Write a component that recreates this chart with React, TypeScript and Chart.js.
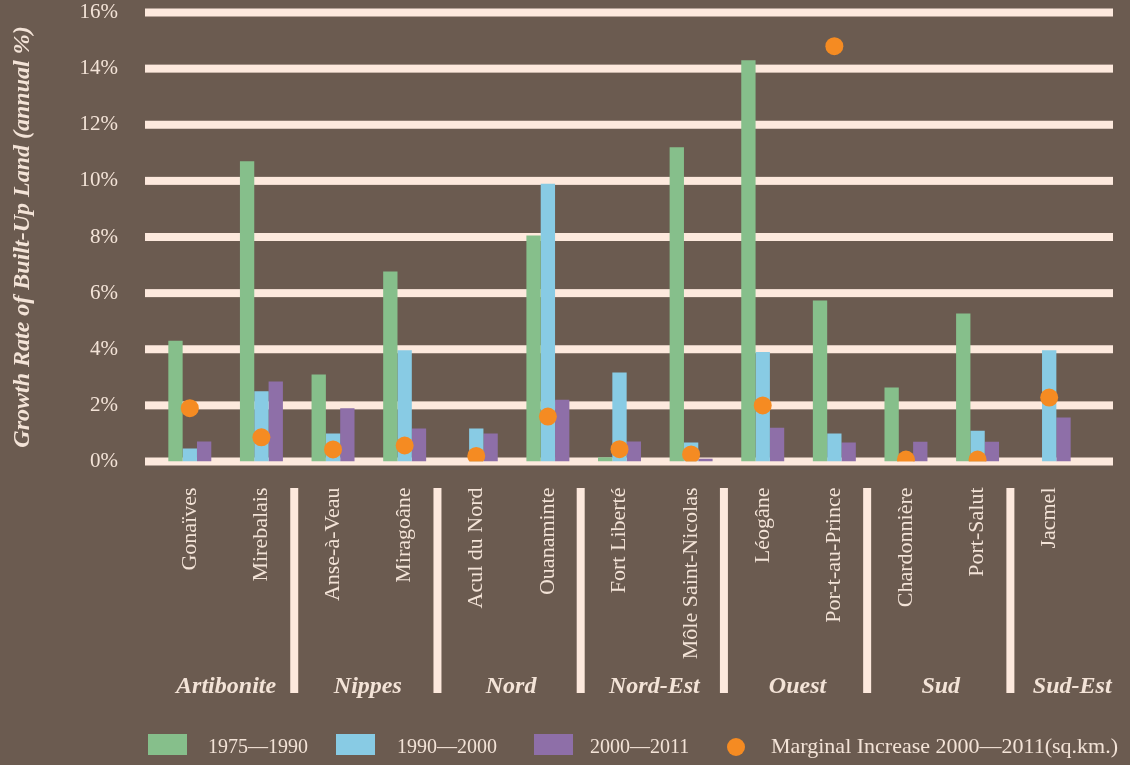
import React, { useEffect, useRef } from "react";
import { Chart, registerables } from "chart.js";

Chart.register(...registerables);

const cities = [
  "Gonaïves", "Mirebalais", "Anse-à-Veau", "Miragoâne", "Acul du Nord", "Ouanaminte",
  "Fort Liberté", "Môle Saint-Nicolas", "Léogâne", "Por-t-au-Prince", "Chardonnière", "Port-Salut", "Jacmel",
];
const departments = ["Artibonite", "Nippes", "Nord", "Nord-Est", "Ouest", "Sud", "Sud-Est"];
const departmentSizes = [2, 2, 2, 2, 2, 2, 1];

const rate1975to1990 = [4.3, 10.7, 3.1, 6.77, 0, 8.05, 0.15, 11.2, 14.3, 5.74, 2.64, 5.27, 0];
const rate1990to2000 = [0.46, 2.5, 1.0, 3.96, 1.18, 9.9, 3.17, 0.68, 3.9, 1.0, 0, 1.1, 3.96];
const rate2000to2011 = [0.71, 2.85, 1.9, 1.18, 1.0, 2.2, 0.71, 0.1, 1.2, 0.68, 0.7, 0.7, 1.57];
const marginalIncrease = [1.9, 0.86, 0.43, 0.57, 0.2, 1.6, 0.44, 0.25, 2.0, 14.8, 0.07, 0.07, 2.28];

const seriesLabels = ["1975—1990", "1990—2000", "2000—2011", "Marginal Increase 2000—2011(sq.km.)"];
const yTicks = [0, 2, 4, 6, 8, 10, 12, 14, 16];

const BG = "#6b5b50";
const GRID = "#fde9dd";
const TEXT = "#f3e3d7";
const GREEN = "#86bf8b";
const BLUE = "#88cbe4";
const PURPLE = "#8e6fa8";
const ORANGE = "#f58b22";
const SERIF = "'Liberation Serif', 'Times New Roman', serif";

const bgPlugin = {
  id: "bgPlugin",
  beforeDraw(chart: any) {
    const ctx = chart.ctx;
    ctx.save();
    ctx.fillStyle = BG;
    ctx.fillRect(0, 0, chart.width, chart.height);
    ctx.restore();
  },
};

const gridPlugin = {
  id: "gridPlugin",
  beforeDatasetsDraw(chart: any) {
    const ctx = chart.ctx;
    const y = chart.scales.y;
    const area = chart.chartArea;
    ctx.save();
    ctx.fillStyle = GRID;
    for (const v of yTicks) {
      const py = y.getPixelForValue(v);
      ctx.fillRect(area.left - 9, py - 4, area.right + 28 - (area.left - 9), 8);
    }
    ctx.restore();
  },
};

const groupPlugin = {
  id: "groupPlugin",
  afterDraw(chart: any) {
    const ctx = chart.ctx;
    const x = chart.scales.x;
    const area = chart.chartArea;
    const seps: number[] = [];
    let idx = 0;
    for (let g = 0; g < departmentSizes.length - 1; g++) {
      idx += departmentSizes[g];
      seps.push((x.getPixelForValue(idx - 1) + x.getPixelForValue(idx)) / 2 - 3);
    }
    ctx.save();
    ctx.fillStyle = GRID;
    for (const s of seps) {
      ctx.fillRect(s - 4, 488, 8, 205);
    }
    ctx.font = `italic bold 24px ${SERIF}`;
    ctx.fillStyle = TEXT;
    ctx.textAlign = "center";
    ctx.textBaseline = "middle";
    for (let g = 0; g < departments.length; g++) {
      const left = g === 0 ? area.left : seps[g - 1];
      const right = g === departments.length - 1 ? chart.width : seps[g];
      ctx.fillText(departments[g], (left + right) / 2 + 2, 687);
    }

    // legend
    const ly = 746;
    const boxX = [148, 336, 534];
    const textX = [208, 397, 590];
    const colors = [GREEN, BLUE, PURPLE];
    ctx.textAlign = "left";
    for (let i = 0; i < 3; i++) {
      ctx.fillStyle = colors[i];
      ctx.fillRect(boxX[i], ly - 12, 39, 21);
      ctx.fillStyle = TEXT;
      ctx.font = `20px ${SERIF}`;
      ctx.fillText(seriesLabels[i], textX[i], ly + 2);
    }
    ctx.fillStyle = ORANGE;
    ctx.beginPath();
    ctx.arc(736, ly + 1, 9, 0, Math.PI * 2);
    ctx.fill();
    ctx.fillStyle = TEXT;
    ctx.font = `22px ${SERIF}`;
    ctx.fillText(seriesLabels[3], 771, ly + 1);
    ctx.restore();
  },
};

export default function App() {
  const ref = useRef<HTMLCanvasElement>(null);

  useEffect(() => {
    if (!ref.current) return;
    const chart = new Chart(ref.current, {
      type: "bar",
      data: {
        labels: cities,
        datasets: [
          { type: "line", label: seriesLabels[3], data: marginalIncrease, showLine: false, pointRadius: 9, pointHoverRadius: 9, pointBackgroundColor: ORANGE, pointBorderWidth: 0, backgroundColor: ORANGE, borderColor: ORANGE, order: 0 } as any,
          { label: seriesLabels[0], data: rate1975to1990, backgroundColor: GREEN, order: 1 },
          { label: seriesLabels[1], data: rate1990to2000, backgroundColor: BLUE, order: 1 },
          { label: seriesLabels[2], data: rate2000to2011, backgroundColor: PURPLE, order: 1 },
        ],
      },
      options: {
        animation: false,
        responsive: true,
        maintainAspectRatio: false,
        layout: { padding: { top: 12.5, right: 45, bottom: 0, left: 0 } },
        datasets: { bar: { categoryPercentage: 0.6, barPercentage: 1.0 } } as any,
        plugins: {
          legend: { display: false },
          tooltip: { enabled: false },
        },
        scales: {
          x: {
            grid: { display: false, drawTicks: false },
            border: { display: false },
            ticks: {
              autoSkip: false,
              minRotation: 90,
              maxRotation: 90,
              padding: 26,
              color: TEXT,
              font: { family: SERIF, size: 22 },
            },
            afterFit(scale: any) {
              scale.height = 303.5;
            },
          },
          y: {
            min: 0,
            max: 16,
            grid: { display: false, drawTicks: false },
            border: { display: false },
            ticks: {
              stepSize: 2,
              padding: 36,
              color: TEXT,
              font: { family: SERIF, size: 21 },
              callback: (v: any) => `${v}%`,
            },
            title: {
              display: true,
              text: "Growth Rate of Built-Up Land (annual %)",
              color: TEXT,
              font: { family: SERIF, size: 24, style: "italic", weight: "bold" },
              padding: { top: 8, bottom: 0 },
            },
            afterFit(scale: any) {
              scale.width = 154;
              scale.paddingTop = 0;
              scale.paddingBottom = 0;
            },
          },
        },
      },
      plugins: [bgPlugin, gridPlugin, groupPlugin],
    });
    return () => chart.destroy();
  }, []);

  return (
    <div style={{ position: "fixed", left: 0, top: 0, width: 1130, height: 765, background: BG }}>
      <canvas ref={ref} />
    </div>
  );
}
